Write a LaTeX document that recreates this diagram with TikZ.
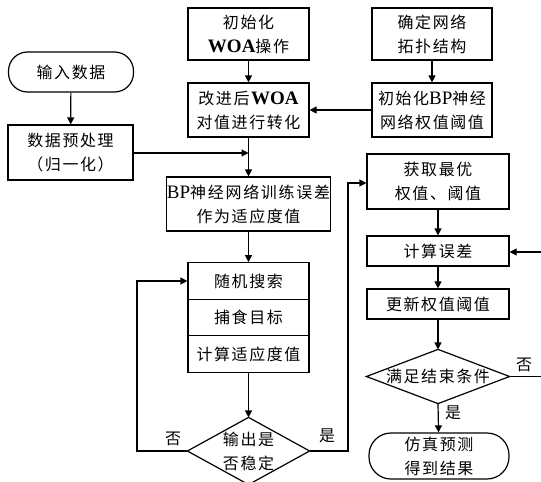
\documentclass[tikz,border=0pt]{standalone}
\usepackage{fontspec}
\setmainfont{Liberation Serif}
\newfontfamily\cjk[Scale=0.84,LetterSpace=10]{Noto Sans CJK SC}
\newfontfamily\cjkwide[Scale=0.84,LetterSpace=11]{Noto Sans CJK SC}
\newcommand\zh[1]{{\cjk #1}}
\newcommand\zhw[1]{{\cjkwide #1}}
\usetikzlibrary{arrows.meta}
\begin{document}
\begin{tikzpicture}[x=1pt,y=-1pt,
  line width=1.2pt,
  txt/.style={font=\fontsize{19}{24}\selectfont, align=center},
  box/.style={txt, draw, inner sep=0pt},
  term/.style={box, rounded corners=19pt},
  ghost/.style={txt, inner sep=0pt},
  arr/.style={-{Triangle[length=7pt,width=7pt]}},
  lbl/.style={font=\fontsize{19}{24}\selectfont, inner sep=0pt}]
\useasboundingbox (0,0) rectangle (541,482);

% left column
\node[term, minimum width=125pt, minimum height=40pt] (in) at (71,72) {\zh{输入数据}};
\node[box, minimum width=125pt, minimum height=55pt] (pre) at (70.5,152.5) {\zh{数据预处理}\\\zh{（归一化）}};

% middle column
\node[box, minimum width=121pt, minimum height=52pt] (iw) at (248.5,34) {\zh{初始化}\\\textbf{WOA}\zh{操作}};
\node[box, minimum width=121pt, minimum height=54pt] (imp) at (248.5,110) {\zh{改进后}\textbf{WOA}\\\zh{对值进行转化}};
\node[box, minimum width=163pt, minimum height=54pt] (bpf) at (248.5,204) {BP\zhw{神经网络训练误差}\\\zh{作为适应度值}};
\node[box, minimum width=121pt, minimum height=36.5pt] (c1) at (248.5,281) {\zh{随机搜索}};
\node[box, minimum width=121pt, minimum height=36.5pt] (c2) at (248.5,317.5) {\zh{捕食目标}};
\node[box, minimum width=121pt, minimum height=36.5pt] (c3) at (248.5,354) {\zh{计算适应度值}};
\node[ghost, minimum width=121pt, minimum height=66pt] (d1) at (248.5,451) {\zh{输出是}\\\zh{否稳定}};
\draw (d1.north) -- (d1.east) -- (d1.south) -- (d1.west) -- cycle;

% right column
\node[box, minimum width=120pt, minimum height=52pt] (net) at (432,34) {\zh{确定网络}\\\zh{拓扑结构}};
\node[box, minimum width=120pt, minimum height=54pt] (ibp) at (432,110) {\zh{初始化}BP\zh{神经}\\\zh{网络权值阈值}};
\node[box, minimum width=142pt, minimum height=55pt] (best) at (438,181.5) {\zh{获取最优}\\\zh{权值、阈值}};
\node[box, minimum width=142pt, minimum height=30pt] (err) at (438,251) {\zh{计算误差}};
\node[box, minimum width=142pt, minimum height=30pt] (upd) at (438,304) {\zh{更新权值阈值}};
\node[ghost, minimum width=142pt, minimum height=53pt] (d2) at (438,376.5) {\zh{满足结束条件}};
\draw (d2.north) -- (d2.east) -- (d2.south) -- (d2.west) -- cycle;
\node[term, minimum width=140pt, minimum height=46pt, rounded corners=22pt] (sim) at (439,456) {\zh{仿真预测}\\\zh{得到结果}};

\coordinate (j1) at (248.5,153);
\coordinate (l1) at (137,451);
\coordinate (l2) at (137,281);
\coordinate (r1) at (348,451);
\coordinate (r2) at (348,183);
\coordinate (e1) at (544,376.5);
\coordinate (e2) at (544,252);

% connectors
\draw[arr] (in) -- (pre);
\draw[arr] (iw) -- (imp);
\draw[arr] (net) -- (ibp);
\draw[arr] (ibp.west) -- (imp.east);
\draw[arr] (imp) -- (bpf);
\draw[arr] (pre.east |- j1) -- (j1);
\draw[arr] (bpf) -- (c1);
\draw[arr] (c3) -- (d1.north);
\draw[arr] (d1.west) -- (l1) -- (l2) -- (c1.west);
\draw[arr] (d1.east) -- (r1) -- (r2) -- (best.west |- r2);
\draw[arr] (best) -- (err);
\draw[arr] (err) -- (upd);
\draw[arr] (upd) -- (d2.north);
\draw[arr] (d2.south) -- (sim);
\draw[arr] (d2.east) -- (e1) -- (e2) -- (err.east |- e2);

% labels
\node[lbl] (n1) at (173,439) {\zh{否}};
\node[lbl] (y1) at (327,436) {\zh{是}};
\node[lbl] (y2) at (453,413) {\zh{是}};
\node[lbl] (n2) at (524,365) {\zh{否}};
\end{tikzpicture}
\end{document}
